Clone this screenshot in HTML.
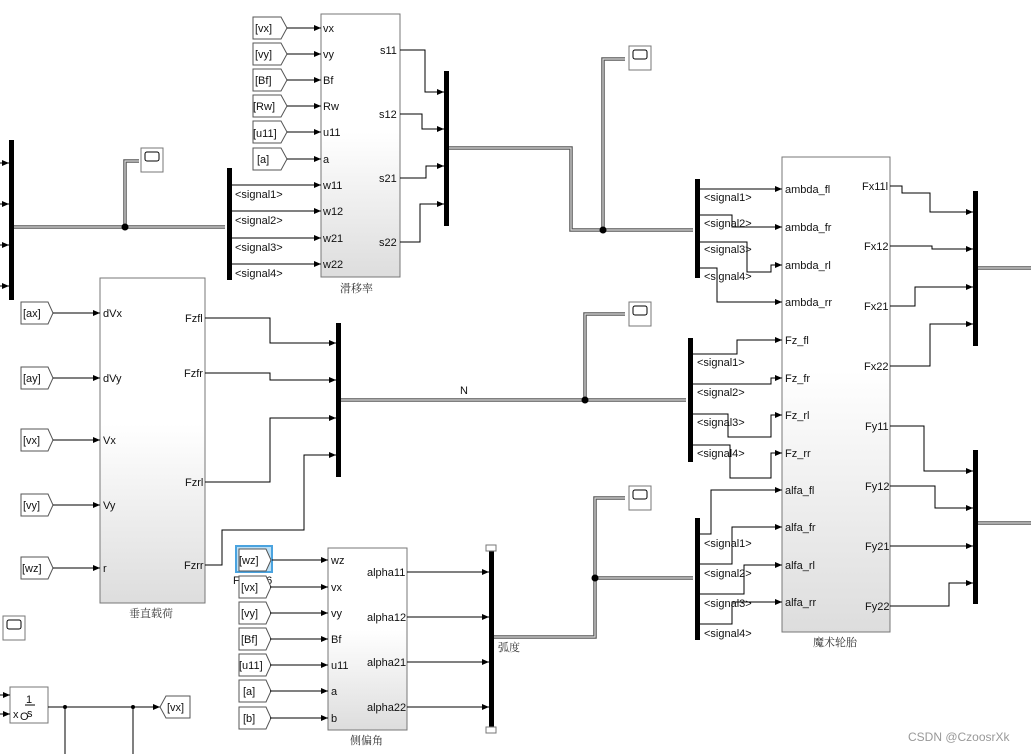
<!DOCTYPE html>
<html><head><meta charset="utf-8"><style>
html,body{margin:0;padding:0;background:#fff;}
svg{display:block;font-family:"Liberation Sans","Noto Sans CJK SC",sans-serif;}
.t{font-size:11px;fill:#111;}
.cn{font-size:11px;fill:#333;font-family:"Noto Serif CJK SC","Noto Sans CJK SC",serif;}
.l{stroke:#000;stroke-width:1;fill:none;}
.bus{stroke:#555;stroke-width:3.5;fill:none;}
.busi{stroke:#ddd;stroke-width:1.2;fill:none;}
.bar{fill:#000;}
.tag{fill:#fff;stroke:#555;stroke-width:1;}
</style></head><body>
<svg width="1031" height="754" viewBox="0 0 1031 754" xmlns="http://www.w3.org/2000/svg">
<defs>
<marker id="a" markerWidth="7" markerHeight="6" refX="7" refY="3" orient="auto" markerUnits="userSpaceOnUse"><path d="M0,0L7,3L0,6z" fill="#000"/></marker>
<linearGradient id="g" x1="0" y1="0" x2="0" y2="1"><stop offset="0.45" stop-color="#fff"/><stop offset="1" stop-color="#ddd"/></linearGradient>
</defs>

<g>
<path class="bus" d="M12,227H225"/><path class="busi" d="M12,227H225"/>
<path class="bus" d="M125,227V161H139"/><path class="busi" d="M125,227V161H139"/>
<path class="bus" d="M447,148H571V230H693"/><path class="busi" d="M447,148H571V230H693"/>
<path class="bus" d="M603,230V59H625"/><path class="busi" d="M603,230V59H625"/>
<path class="bus" d="M340,400H686"/><path class="busi" d="M340,400H686"/>
<path class="bus" d="M585,400V314H625"/><path class="busi" d="M585,400V314H625"/>
<path class="bus" d="M493,637H595V498H625"/><path class="busi" d="M493,637H595V498H625"/>
<path class="bus" d="M595,578H693"/><path class="busi" d="M595,578H693"/>
<path class="bus" d="M977,268H1031"/><path class="busi" d="M977,268H1031"/>
<path class="bus" d="M977,523H1031"/><path class="busi" d="M977,523H1031"/>
<circle cx="125" cy="227" r="3.5"/><circle cx="603" cy="230" r="3.5"/><circle cx="585" cy="400" r="3.5"/><circle cx="595" cy="578" r="3.5"/>
</g>

<rect class="bar" x="9" y="140" width="5" height="160"/>
<g class="l" marker-end="url(#a)"><path d="M0,163H9"/><path d="M0,204H9"/><path d="M0,245H9"/><path d="M0,286H9"/></g>

<g fill="#fff" stroke="#777">
<rect x="141" y="148" width="22" height="24"/><rect x="145" y="152" width="14" height="9" rx="2" stroke="#000"/>
<rect x="629" y="46" width="22" height="24"/><rect x="633" y="50" width="14" height="9" rx="2" stroke="#000"/>
<rect x="629" y="302" width="22" height="24"/><rect x="633" y="306" width="14" height="9" rx="2" stroke="#000"/>
<rect x="629" y="486" width="22" height="24"/><rect x="633" y="490" width="14" height="9" rx="2" stroke="#000"/>
<rect x="3" y="616" width="22" height="24"/><rect x="7" y="620" width="14" height="9" rx="2" stroke="#000"/>
</g>

<!-- slip block -->
<rect x="321" y="14" width="79" height="263" fill="url(#g)" stroke="#777"/>
<text class="cn" x="340" y="292">滑移率</text>
<g class="t">
<text x="323" y="32">vx</text><text x="323" y="58">vy</text><text x="323" y="84">Bf</text><text x="323" y="110">Rw</text><text x="323" y="136">u11</text><text x="323" y="163">a</text><text x="323" y="189">w11</text><text x="323" y="215">w12</text><text x="323" y="242">w21</text><text x="323" y="268">w22</text>
<text x="380" y="54">s11</text><text x="379" y="118">s12</text><text x="379" y="182">s21</text><text x="379" y="246">s22</text>
</g>
<g>
<path class="tag" d="M253,17h28l6,11l-6,11h-28z"/><text class="t" x="255" y="32" font-size="12">[vx]</text>
<path class="tag" d="M253,43h28l6,11l-6,11h-28z"/><text class="t" x="255" y="58" font-size="12">[vy]</text>
<path class="tag" d="M253,69h28l6,11l-6,11h-28z"/><text class="t" x="255" y="84" font-size="12">[Bf]</text>
<path class="tag" d="M253,95h28l6,11l-6,11h-28z"/><text class="t" x="253" y="110" font-size="12">[Rw]</text>
<path class="tag" d="M253,121h28l6,11l-6,11h-28z"/><text class="t" x="253" y="137" font-size="12">[u11]</text>
<path class="tag" d="M253,148h28l6,11l-6,11h-28z"/><text class="t" x="257" y="163" font-size="12">[a]</text>
</g>
<g class="l" marker-end="url(#a)"><path d="M287,28H321"/><path d="M287,54H321"/><path d="M287,80H321"/><path d="M287,106H321"/><path d="M287,132H321"/><path d="M287,159H321"/></g>
<rect class="bar" x="227" y="168" width="5" height="112"/>
<g class="l" marker-end="url(#a)"><path d="M232,185H321"/><path d="M232,211H321"/><path d="M232,238H321"/><path d="M232,264H321"/></g>
<g class="t" font-size="12"><text x="235" y="198">&lt;signal1&gt;</text><text x="235" y="224">&lt;signal2&gt;</text><text x="235" y="251">&lt;signal3&gt;</text><text x="235" y="277">&lt;signal4&gt;</text></g>
<rect class="bar" x="444" y="71" width="5" height="155"/>
<g class="l" marker-end="url(#a)"><path d="M400,50H425V92H444"/><path d="M400,114H422V129H444"/><path d="M400,178H426V166H444"/><path d="M400,242H420V204H444"/></g>

<!-- vertical load block -->
<rect x="100" y="278" width="105" height="325" fill="url(#g)" stroke="#777"/>
<text class="cn" x="129" y="617">垂直载荷</text>
<g class="t">
<text x="103" y="317">dVx</text><text x="103" y="382">dVy</text><text x="103" y="444">Vx</text><text x="103" y="509">Vy</text><text x="103" y="572">r</text>
<text x="185" y="322">Fzfl</text><text x="184" y="377">Fzfr</text><text x="185" y="486">Fzrl</text><text x="184" y="569">Fzrr</text>
</g>
<g>
<path class="tag" d="M21,302h27l5,11l-5,11h-27z"/><text class="t" font-size="12" x="23" y="317">[ax]</text>
<path class="tag" d="M21,367h27l5,11l-5,11h-27z"/><text class="t" font-size="12" x="23" y="382">[ay]</text>
<path class="tag" d="M21,429h27l5,11l-5,11h-27z"/><text class="t" font-size="12" x="23" y="444">[vx]</text>
<path class="tag" d="M21,494h27l5,11l-5,11h-27z"/><text class="t" font-size="12" x="23" y="509">[vy]</text>
<path class="tag" d="M21,557h27l5,11l-5,11h-27z"/><text class="t" font-size="12" x="22" y="572">[wz]</text>
</g>
<g class="l" marker-end="url(#a)"><path d="M53,313H100"/><path d="M53,378H100"/><path d="M53,440H100"/><path d="M53,505H100"/><path d="M53,568H100"/></g>
<rect class="bar" x="336" y="323" width="5" height="154"/>
<g class="l" marker-end="url(#a)"><path d="M205,318H270V343H336"/><path d="M205,373H270V380H336"/><path d="M205,482H270V418H336"/><path d="M205,565H222V530H304V455H336"/></g>
<text class="t" font-size="11" x="460" y="394">N</text>

<!-- side slip block -->
<rect x="328" y="548" width="79" height="182" fill="url(#g)" stroke="#777"/>
<text class="cn" x="350" y="744">侧偏角</text>
<g class="t">
<text x="331" y="564">wz</text><text x="331" y="591">vx</text><text x="331" y="617">vy</text><text x="331" y="643">Bf</text><text x="331" y="669">u11</text><text x="331" y="695">a</text><text x="331" y="722">b</text>
<text x="367" y="576">alpha11</text><text x="367" y="621">alpha12</text><text x="367" y="666">alpha21</text><text x="367" y="711">alpha22</text>
</g>
<g>
<rect x="236" y="546" width="36" height="26" fill="#bde0f5" stroke="#4aa3df" stroke-width="2"/>
<path class="tag" d="M239,549h27l5,11l-5,11h-27z"/><text class="t" font-size="12" x="239" y="564">[wz]</text>
<text class="t" x="233" y="584" font-size="12">F</text><text class="t" x="260" y="584" font-size="12">16</text>
<path class="tag" d="M239,576h27l5,11l-5,11h-27z"/><text class="t" font-size="12" x="241" y="591">[vx]</text>
<path class="tag" d="M239,602h27l5,11l-5,11h-27z"/><text class="t" font-size="12" x="241" y="617">[vy]</text>
<path class="tag" d="M239,628h27l5,11l-5,11h-27z"/><text class="t" font-size="12" x="241" y="643">[Bf]</text>
<path class="tag" d="M239,654h27l5,11l-5,11h-27z"/><text class="t" font-size="12" x="239" y="669">[u11]</text>
<path class="tag" d="M239,680h27l5,11l-5,11h-27z"/><text class="t" font-size="12" x="243" y="695">[a]</text>
<path class="tag" d="M239,707h27l5,11l-5,11h-27z"/><text class="t" font-size="12" x="243" y="722">[b]</text>
</g>
<g class="l" marker-end="url(#a)"><path d="M272,560H328"/><path d="M270,587H328"/><path d="M270,613H328"/><path d="M270,639H328"/><path d="M270,665H328"/><path d="M270,691H328"/><path d="M270,718H328"/></g>
<rect class="bar" x="489" y="548" width="5" height="182"/>
<rect x="486" y="545" width="10" height="6" fill="#fff" stroke="#777"/><rect x="486" y="727" width="10" height="6" fill="#fff" stroke="#777"/>
<g class="l" marker-end="url(#a)"><path d="M407,572H489"/><path d="M407,617H489"/><path d="M407,662H489"/><path d="M407,707H489"/></g>
<text class="cn" x="498" y="651">弧度</text>

<!-- tire block -->
<rect x="782" y="157" width="108" height="475" fill="url(#g)" stroke="#777"/>
<text class="cn" x="813" y="646">魔术轮胎</text>
<g class="t">
<text x="785" y="193">ambda_fl</text><text x="785" y="231">ambda_fr</text><text x="785" y="269">ambda_rl</text><text x="785" y="306">ambda_rr</text>
<text x="785" y="344">Fz_fl</text><text x="785" y="382">Fz_fr</text><text x="785" y="419">Fz_rl</text><text x="785" y="457">Fz_rr</text>
<text x="785" y="494">alfa_fl</text><text x="785" y="531">alfa_fr</text><text x="785" y="569">alfa_rl</text><text x="785" y="606">alfa_rr</text>
<text x="862" y="190">Fx11l</text><text x="864" y="250">Fx12</text><text x="864" y="310">Fx21</text><text x="864" y="370">Fx22</text>
<text x="865" y="430">Fy11</text><text x="865" y="490">Fy12</text><text x="865" y="550">Fy21</text><text x="865" y="610">Fy22</text>
</g>
<rect class="bar" x="695" y="179" width="5" height="99"/>
<g class="l" marker-end="url(#a)"><path d="M700,189H782"/><path d="M700,215H732V227H782"/><path d="M700,242H747V272H771V265H782"/><path d="M700,268H717V302H782"/></g>
<g class="t" font-size="12"><text x="704" y="201">&lt;signal1&gt;</text><text x="704" y="227">&lt;signal2&gt;</text><text x="704" y="253">&lt;signal3&gt;</text><text x="704" y="280">&lt;signal4&gt;</text></g>
<rect class="bar" x="688" y="338" width="5" height="124"/>
<g class="l" marker-end="url(#a)"><path d="M693,354H737V340H782"/><path d="M693,384H771V378H782"/><path d="M693,414H728V437H771V415H782"/><path d="M693,445H730V478H771V453H782"/></g>
<g class="t" font-size="12"><text x="697" y="366">&lt;signal1&gt;</text><text x="697" y="396">&lt;signal2&gt;</text><text x="697" y="426">&lt;signal3&gt;</text><text x="697" y="457">&lt;signal4&gt;</text></g>
<rect class="bar" x="695" y="518" width="5" height="122"/>
<g class="l" marker-end="url(#a)"><path d="M700,534H711V490H782"/><path d="M700,564H732V527H782"/><path d="M700,594H744V565H782"/><path d="M700,624H732V602H782"/></g>
<g class="t" font-size="12"><text x="704" y="547">&lt;signal1&gt;</text><text x="704" y="577">&lt;signal2&gt;</text><text x="704" y="607">&lt;signal3&gt;</text><text x="704" y="637">&lt;signal4&gt;</text></g>
<rect class="bar" x="973" y="191" width="5" height="155"/>
<g class="l" marker-end="url(#a)"><path d="M890,186H902V193H930V212H973"/><path d="M890,246H932V249H973"/><path d="M890,306H915V287H973"/><path d="M890,366H930V324H973"/></g>
<rect class="bar" x="973" y="450" width="5" height="154"/>
<g class="l" marker-end="url(#a)"><path d="M890,426H924V471H973"/><path d="M890,486H935V508H973"/><path d="M890,546H973"/><path d="M890,606H949V583H973"/></g>

<!-- bottom left -->
<rect x="10" y="687" width="38" height="36" fill="#fff" stroke="#777"/>
<text class="t" font-size="13" x="26" y="703">1</text><path d="M25,705H35" stroke="#000"/>
<text class="t" font-size="13" x="13" y="718">x</text><text class="t" font-size="10" x="20" y="720">O</text><text class="t" font-size="13" x="27" y="717">s</text>
<g class="l" marker-end="url(#a)"><path d="M0,695H10"/><path d="M0,714H10"/><path d="M48,707H160"/></g>
<path class="l" d="M65,707V754M133,707V754"/>
<circle cx="65" cy="707" r="2"/><circle cx="133" cy="707" r="2"/>
<path class="tag" d="M160,707l6,-11h24v22h-24z"/><text class="t" font-size="12" x="167" y="711">[vx]</text>

<text x="908" y="741" font-size="12" fill="#999">CSDN @CzoosrXk</text>
</svg>
</body></html>
